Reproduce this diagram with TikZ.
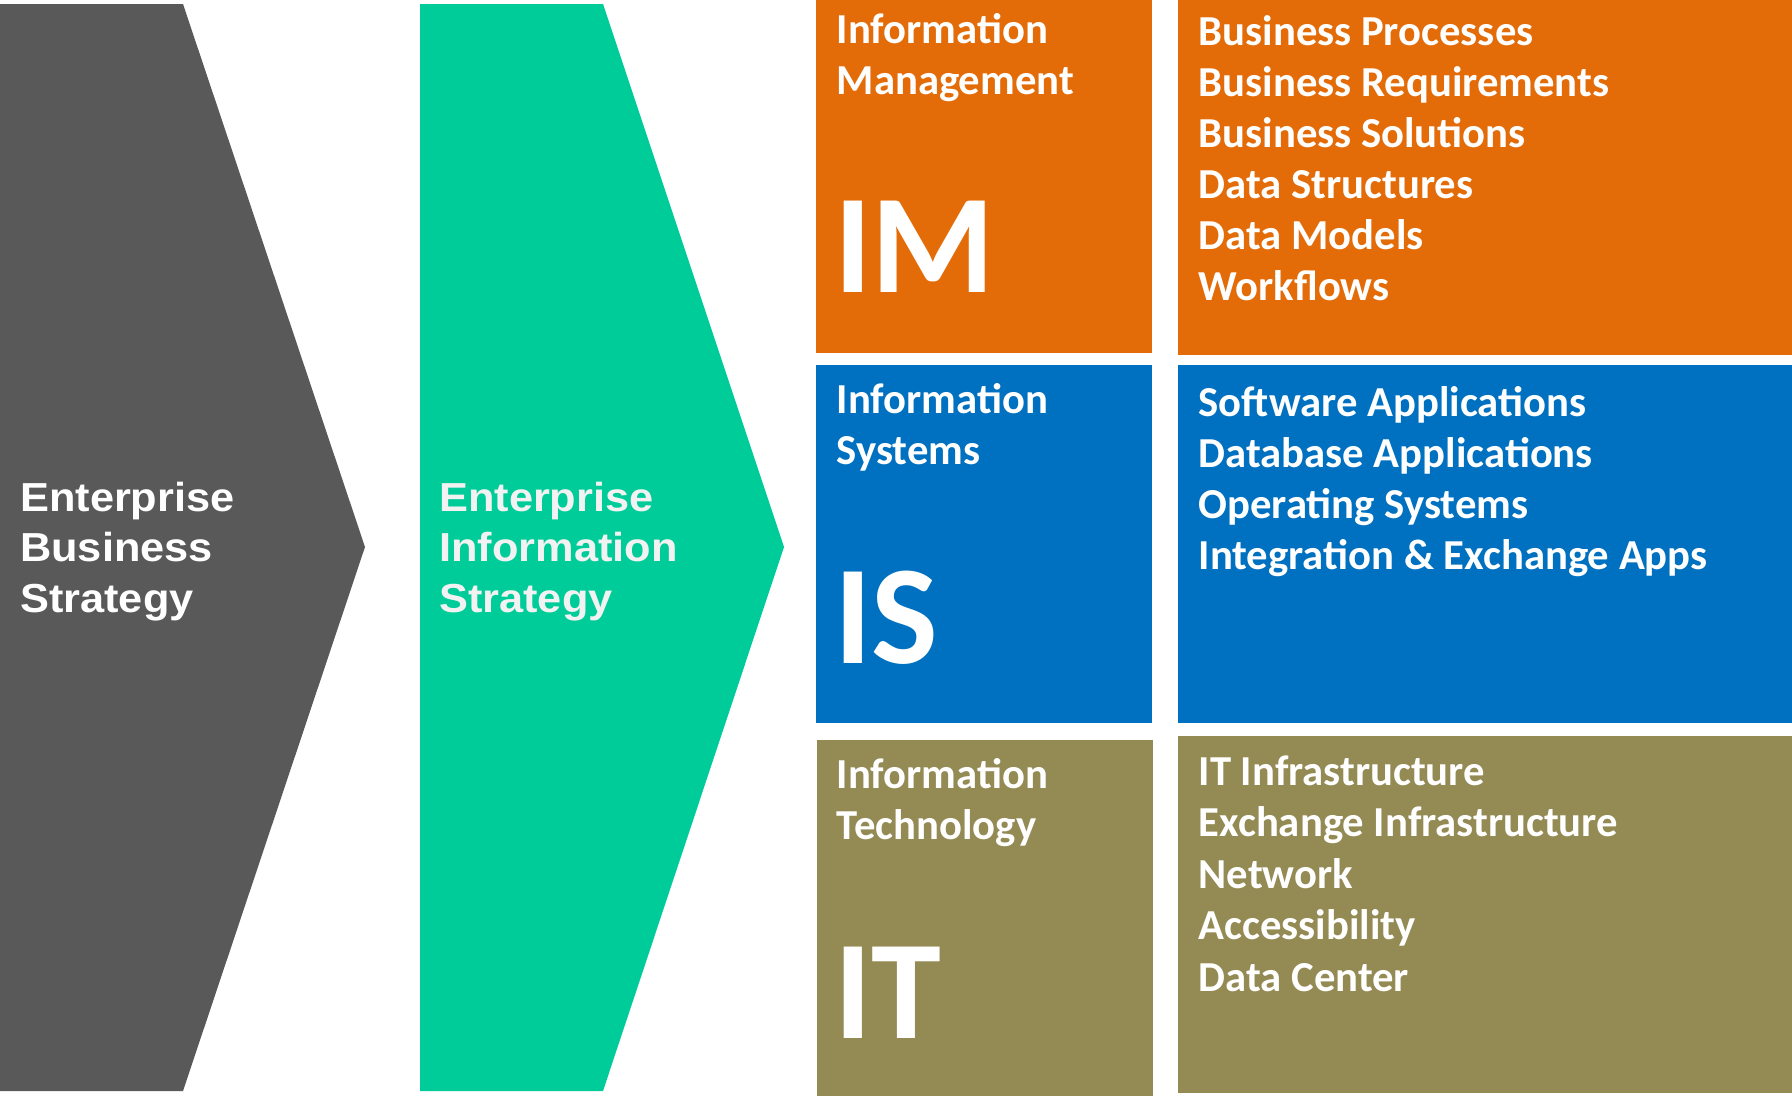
\documentclass[tikz,border=0pt]{standalone}
\usepackage{fontspec}
\newfontfamily\arialf[FakeStretch=1.07]{Liberation Sans}
\newfontfamily\calibf{Carlito}

\definecolor{chevgray}{HTML}{595959}
\definecolor{chevgreen}{HTML}{00CC99}
\definecolor{lightwhite}{HTML}{F2F2F2}
\definecolor{imorange}{HTML}{E36C09}
\definecolor{isblue}{HTML}{0070C0}
\definecolor{itolive}{HTML}{948A54}

\tikzset{
  chevtxt/.style={font=\arialf\bfseries\fontsize{40.5}{47}\selectfont},
  boxtxt/.style={font=\calibf\bfseries\fontsize{42.7}{50}\selectfont},
  bigtxt/.style={font=\calibf\bfseries\fontsize{141}{160}\selectfont}
}

\begin{document}
\begin{tikzpicture}[x=1pt, y=-1pt, every node/.style={inner sep=0pt, anchor=base west, text=white}]
    \useasboundingbox (0,0) rectangle (1792,1096);

    % the two chevrons
    \fill[chevgray]  (0,4)   -- (183,4) -- (365,547) -- (183,1091) -- (0,1091)   -- cycle;
    \fill[chevgreen] (420,4) -- (603,4) -- (784,547) -- (603,1091) -- (420,1091) -- cycle;

    \foreach \txt [count=\i from 0] in {Enterprise, Business, Strategy}
        \node[chevtxt] (ebs\i) at (20, 511+50.5*\i) {\txt};
    \foreach \txt [count=\i from 0] in {Enterprise, Information, Strategy}
        \node[chevtxt, text=lightwhite] (eis\i) at (439, 511+50.5*\i) {\txt};

    % boxes
    \fill[imorange] (816,0)   rectangle (1152,353);
    \fill[imorange] (1178,0)  rectangle (1792,355);
    \fill[isblue]   (816,365) rectangle (1152,723);
    \fill[isblue]   (1178,365) rectangle (1792,723);
    \fill[itolive]  (817,740) rectangle (1153,1096);
    \fill[itolive]  (1178,736) rectangle (1792,1093);

    % left labels
    \node[boxtxt] (imA) at (836.5,43.5)  {Information};
    \node[boxtxt] (imB) at (836.5,94)    {Management};
    \node[bigtxt] (im)  at (834,292.5)   {IM};

    \node[boxtxt] (isA) at (836.5,413.5) {Information};
    \node[boxtxt] (isB) at (836.5,464)   {Systems};
    \node[bigtxt] (is)  at (834,663)     {IS};

    \node[boxtxt] (itA) at (836.5,788)   {Information};
    \node[boxtxt] (itB) at (836.5,839)   {Technology};
    \node[bigtxt] (it)  at (834,1038)    {IT};

    % right lists
    \foreach \txt [count=\i from 0] in {Business Processes, Business Requirements,
            Business Solutions, Data Structures, Data Models, Workflows}
        \node[boxtxt] (imitem\i) at (1198.5, 45.7+51*\i) {\txt};
    \foreach \txt [count=\i from 0] in {Software Applications, Database Applications,
            Operating Systems, Integration \& Exchange Apps}
        \node[boxtxt] (isitem\i) at (1198.5, 416+51.2*\i) {\txt};
    \foreach \txt [count=\i from 0] in {IT Infrastructure, Exchange Infrastructure,
            Network, Accessibility, Data Center}
        \node[boxtxt] (ititem\i) at (1198.5, 785+51.5*\i) {\txt};
\end{tikzpicture}
\end{document}
